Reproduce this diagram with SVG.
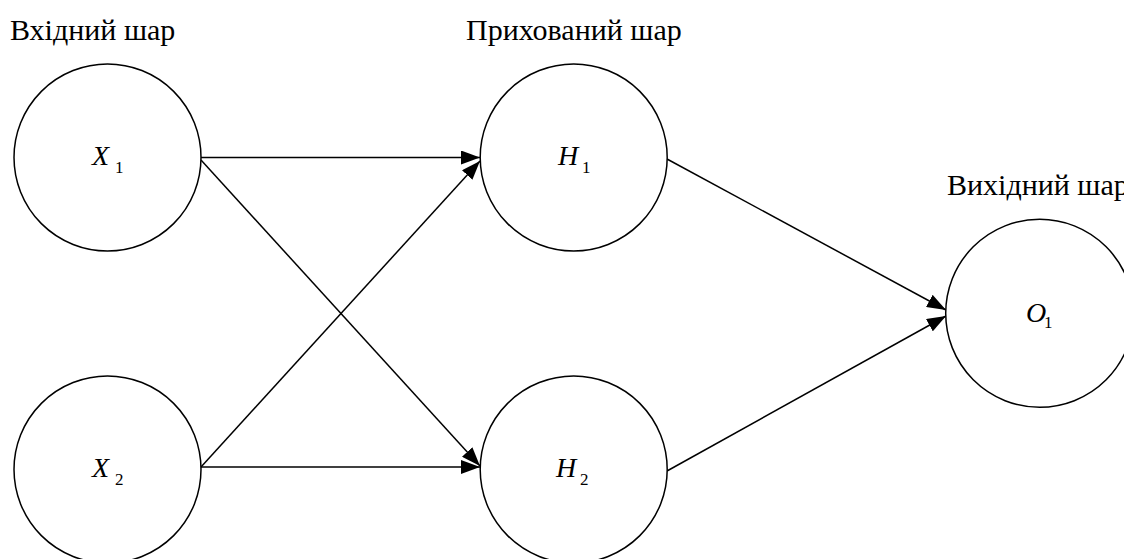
<svg xmlns="http://www.w3.org/2000/svg" width="1124" height="559" viewBox="0 0 1124 559">
  <style>
    .node { fill: #fff; stroke: #000; stroke-width: 1.5; }
    text { font-family: 'Liberation Serif', serif; fill: #000; }
    .layer { font-size: 30px; }
    .sym { font-size: 28px; font-style: italic; }
    .sub { font-size: 17px; }
    .edge { stroke: #000; stroke-width: 1.5; fill: none; marker-end: url(#arrow); }
  </style>
  <defs>
    <marker id="arrow" markerUnits="userSpaceOnUse" markerWidth="20" markerHeight="14" refX="19" refY="7" orient="auto">
      <path d="M0,0 L19,7 L0,14 Z" fill="#000"/>
    </marker>
  </defs>
  <rect width="1124" height="559" fill="#fff"/>

  <!-- layer captions -->
  <text class="layer" x="10" y="40">Вхідний шар</text>
  <text class="layer" x="466" y="40">Прихований шар</text>
  <text class="layer" x="947" y="195">Вихідний шар</text>

  <!-- connectors -->
  <g id="connectors">
    <line class="edge" x1="201" y1="157.5" x2="480" y2="157.5"/>
    <line class="edge" x1="201" y1="160" x2="480" y2="466"/>
    <line class="edge" x1="201" y1="467" x2="480" y2="161"/>
    <line class="edge" x1="201" y1="467" x2="480" y2="467"/>
    <line class="edge" x1="667" y1="159" x2="946" y2="310"/>
    <line class="edge" x1="667" y1="471" x2="946" y2="316"/>
  </g>

  <!-- input layer -->
  <g id="node-x1">
    <circle class="node" cx="107.5" cy="157.5" r="93.5"/>
    <text class="sym" x="92" y="165">X</text>
    <text class="sub" x="115" y="173">1</text>
  </g>
  <g id="node-x2">
    <circle class="node" cx="107.5" cy="469.5" r="93.5"/>
    <text class="sym" x="92" y="477">X</text>
    <text class="sub" x="115" y="485">2</text>
  </g>

  <!-- hidden layer -->
  <g id="node-h1">
    <circle class="node" cx="573.7" cy="157.5" r="93.5"/>
    <text class="sym" x="558" y="165">H</text>
    <text class="sub" x="582" y="173">1</text>
  </g>
  <g id="node-h2">
    <circle class="node" cx="573.7" cy="469.5" r="93.5"/>
    <text class="sym" x="556" y="477">H</text>
    <text class="sub" x="580" y="485">2</text>
  </g>

  <!-- output layer -->
  <g id="node-o1">
    <circle class="node" cx="1039.7" cy="313.3" r="94"/>
    <text class="sym" x="1026" y="322">O</text>
    <text class="sub" x="1044" y="328">1</text>
  </g>
</svg>
